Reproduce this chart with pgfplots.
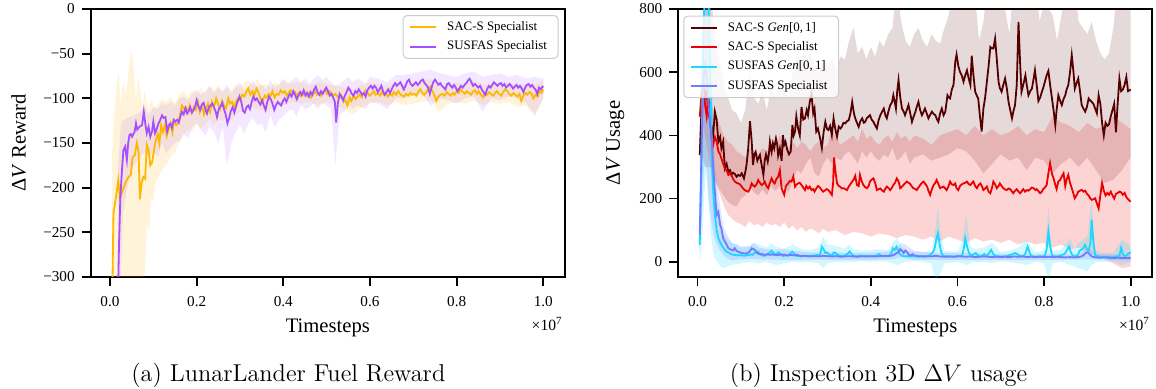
\documentclass[border=0pt]{standalone}
\usepackage{pgfplots}
\pgfplotsset{compat=1.18}
\usepgfplotslibrary{fillbetween}
\usepackage{fontspec}
\newfontfamily\tms{Liberation Serif}
\definecolor{cyel}{RGB}{255,183,0}
\definecolor{cpur}{RGB}{165,80,255}
\definecolor{cdred}{RGB}{85,0,0}
\definecolor{cred}{RGB}{235,0,0}
\definecolor{ccyan}{RGB}{30,215,255}
\definecolor{cblue}{RGB}{110,125,255}
\pgfplotsset{
  base/.style={
    scale only axis, height=134pt,
    axis line style={line width=0.85pt},
    every tick/.style={line width=0.85pt, black},
    major tick length=4.5pt,
    tick align=outside, tick pos=left,
    xtick={0,0.2,0.4,0.6,0.8,1.0},
    xticklabels={0.0,0.2,0.4,0.6,0.8,1.0},
    xmin=-0.0445, xmax=1.05,
    tick label style={font=\tms\fontsize{7.6}{9}\selectfont},
    xticklabel style={yshift=-1.5pt},
    label style={font=\tms\fontsize{10.3}{12}\selectfont},
    xlabel={Timesteps},
    xlabel style={at={(axis description cs:0.5,-0.19)}, anchor=center},
    legend cell align=left,
    legend image code/.code={\draw[##1, line width=1pt] (0pt,0pt) -- (13pt,0pt);},
    legend style={font=\tms\fontsize{6.45}{7.5}\selectfont, draw=black!20, line width=0.5pt,
      rounded corners=2pt, fill=white, fill opacity=0.8, text opacity=1, draw opacity=1,
      inner xsep=3pt, inner ysep=2pt, row sep=2pt,
      /tikz/every odd column/.append style={column sep=2.5pt},
      nodes={inner xsep=2.5pt, inner ysep=0.8pt, text height=4.7pt, text depth=1.4pt}},
  }
}
\begin{document}
\begin{tikzpicture}
% ================= LEFT =================
\begin{axis}[base, name=L, at={(45.35pt,-138.5pt)}, anchor=south west, width=237.15pt,
  ymin=-300, ymax=0, ytick={-300,-250,-200,-150,-100,-50,0},
  yticklabels={−300,−250,−200,−150,−100,−50,0},
  ylabel={Δ\textit{V} Reward},
  ylabel style={at={(axis description cs:-0.152,0.5)}, anchor=center},
  legend style={at={(axis description cs:1,1)}, anchor=north east, xshift=-3.25pt, yshift=-3pt}]
% yellow band
\addplot[draw=none, name path=yu, forget plot] coordinates {(0.005,-160) (0.01,-120) (0.015,-85) (0.02,-70) (0.025,-110) (0.03,-80) (0.035,-95) (0.04,-85) (0.045,-60) (0.05,-45) (0.055,-70) (0.06,-100) (0.065,-75) (0.07,-90) (0.075,-110) (0.08,-90) (0.085,-105) (0.09,-115) (0.095,-100) (0.1,-110) (0.11,-108) (0.12,-100) (0.13,-104) (0.14,-98) (0.15,-106) (0.16,-95) (0.17,-92) (0.18,-98) (0.19,-90) (0.2,-95) (0.21,-88) (0.22,-96) (0.23,-86) (0.24,-92) (0.25,-85) (0.26,-94) (0.27,-88) (0.28,-92) (0.29,-84) (0.30,-88) (0.31,-82) (0.32,-80) (0.33,-86) (0.34,-78) (0.35,-86) (0.36,-84) (0.37,-88) (0.38,-82) (0.39,-86) (0.40,-80) (0.42,-84) (0.44,-82) (0.46,-86) (0.48,-82) (0.50,-84) (0.52,-86) (0.54,-88) (0.56,-90) (0.58,-85) (0.60,-82) (0.62,-84) (0.64,-86) (0.66,-82) (0.68,-86) (0.70,-84) (0.72,-80) (0.74,-78) (0.76,-88) (0.78,-84) (0.80,-82) (0.82,-84) (0.84,-80) (0.86,-84) (0.88,-86) (0.90,-84) (0.92,-82) (0.94,-86) (0.96,-84) (0.98,-85) (1.0,-80)};
\addplot[draw=none, name path=yl, forget plot] coordinates {(0.005,-330) (0.02,-330) (0.04,-330) (0.06,-330) (0.075,-330) (0.08,-300) (0.085,-240) (0.09,-250) (0.095,-210) (0.1,-215) (0.105,-195) (0.11,-190) (0.12,-180) (0.13,-175) (0.14,-165) (0.15,-160) (0.16,-150) (0.17,-140) (0.18,-135) (0.19,-138) (0.2,-128) (0.21,-135) (0.22,-128) (0.23,-124) (0.24,-130) (0.25,-122) (0.26,-126) (0.27,-120) (0.28,-125) (0.29,-118) (0.30,-116) (0.32,-110) (0.34,-112) (0.36,-115) (0.38,-108) (0.40,-108) (0.42,-104) (0.44,-106) (0.46,-104) (0.48,-108) (0.50,-104) (0.52,-108) (0.54,-112) (0.56,-118) (0.58,-110) (0.60,-106) (0.62,-104) (0.64,-108) (0.66,-104) (0.68,-108) (0.70,-106) (0.72,-104) (0.74,-102) (0.76,-115) (0.78,-106) (0.80,-104) (0.82,-106) (0.84,-102) (0.86,-108) (0.88,-104) (0.90,-106) (0.92,-104) (0.94,-110) (0.96,-108) (0.98,-120) (1.0,-100)};
\addplot[fill=cyel, fill opacity=0.15, draw=none, forget plot] fill between[of=yu and yl];
% purple band
\addplot[draw=none, name path=pu, forget plot] coordinates {(0.018,-180) (0.025,-130) (0.03,-125) (0.04,-122) (0.05,-120) (0.06,-118) (0.07,-115) (0.08,-110) (0.09,-118) (0.1,-110) (0.11,-112) (0.12,-105) (0.13,-108) (0.14,-104) (0.15,-108) (0.16,-100) (0.17,-98) (0.18,-102) (0.19,-95) (0.2,-90) (0.21,-96) (0.22,-92) (0.23,-86) (0.24,-94) (0.25,-88) (0.26,-92) (0.27,-85) (0.28,-94) (0.29,-88) (0.30,-82) (0.31,-92) (0.32,-86) (0.33,-80) (0.34,-88) (0.35,-84) (0.36,-90) (0.37,-80) (0.38,-88) (0.39,-84) (0.40,-78) (0.41,-84) (0.42,-80) (0.43,-76) (0.44,-82) (0.45,-78) (0.46,-84) (0.47,-78) (0.48,-74) (0.49,-80) (0.50,-76) (0.51,-82) (0.52,-86) (0.53,-84) (0.54,-80) (0.55,-76) (0.56,-82) (0.57,-78) (0.58,-80) (0.59,-84) (0.60,-76) (0.62,-78) (0.64,-82) (0.66,-74) (0.68,-74) (0.70,-72) (0.72,-70) (0.74,-68) (0.76,-72) (0.78,-74) (0.80,-76) (0.82,-72) (0.84,-70) (0.86,-76) (0.88,-74) (0.90,-72) (0.92,-76) (0.94,-74) (0.96,-78) (0.98,-76) (1.0,-78)};
\addplot[draw=none, name path=pl, forget plot] coordinates {(0.018,-330) (0.025,-300) (0.03,-230) (0.04,-200) (0.05,-180) (0.06,-172) (0.07,-165) (0.08,-160) (0.09,-168) (0.1,-160) (0.11,-165) (0.12,-150) (0.13,-162) (0.14,-155) (0.15,-150) (0.16,-148) (0.17,-140) (0.18,-145) (0.19,-132) (0.2,-128) (0.21,-135) (0.22,-142) (0.23,-132) (0.24,-138) (0.25,-150) (0.26,-132) (0.27,-175) (0.28,-150) (0.29,-138) (0.30,-130) (0.31,-140) (0.32,-128) (0.33,-122) (0.34,-130) (0.35,-128) (0.36,-138) (0.37,-118) (0.38,-132) (0.39,-124) (0.40,-120) (0.41,-115) (0.42,-112) (0.43,-120) (0.44,-108) (0.45,-112) (0.46,-110) (0.47,-106) (0.48,-112) (0.49,-105) (0.50,-108) (0.51,-112) (0.52,-175) (0.53,-118) (0.54,-115) (0.55,-106) (0.56,-112) (0.57,-108) (0.58,-110) (0.59,-112) (0.60,-104) (0.62,-106) (0.64,-112) (0.66,-100) (0.68,-100) (0.70,-96) (0.72,-95) (0.74,-108) (0.76,-100) (0.78,-102) (0.80,-106) (0.82,-100) (0.84,-98) (0.86,-115) (0.88,-100) (0.90,-102) (0.92,-98) (0.94,-100) (0.96,-105) (0.98,-118) (1.0,-100)};
\addplot[fill=cpur, fill opacity=0.13, draw=none, forget plot] fill between[of=pu and pl];
% yellow line
\addplot[cyel, line width=0.9pt] coordinates {(0.005,-330) (0.008,-229) (0.014,-210) (0.019,-192) (0.023,-212) (0.028,-205) (0.033,-198) (0.038,-192) (0.043,-188) (0.048,-186) (0.052,-166) (0.057,-164) (0.062,-150) (0.066,-160) (0.069,-213) (0.073,-195) (0.077,-188) (0.081,-190) (0.085,-152) (0.089,-158) (0.093,-175) (0.097,-172) (0.101,-160) (0.105,-148) (0.110,-140) (0.114,-150) (0.118,-130) (0.122,-138) (0.127,-130) (0.131,-142) (0.135,-135) (0.140,-128) (0.144,-138) (0.148,-125) (0.153,-130) (0.157,-128) (0.162,-118) (0.166,-108) (0.171,-112) (0.175,-110) (0.180,-115) (0.184,-108) (0.189,-116) (0.193,-110) (0.198,-113) (0.203,-104) (0.207,-115) (0.212,-108) (0.217,-118) (0.221,-112) (0.226,-106) (0.231,-115) (0.235,-104) (0.240,-110) (0.245,-100) (0.249,-106) (0.254,-112) (0.259,-103) (0.263,-108) (0.268,-111) (0.273,-100) (0.277,-106) (0.282,-104) (0.287,-110) (0.291,-103) (0.296,-100) (0.301,-102) (0.305,-96) (0.310,-98) (0.315,-92) (0.319,-89) (0.324,-96) (0.329,-92) (0.333,-97) (0.338,-89) (0.343,-94) (0.347,-100) (0.352,-104) (0.357,-97) (0.361,-99) (0.366,-95) (0.371,-97) (0.375,-92) (0.380,-99) (0.385,-95) (0.389,-96) (0.394,-91) (0.399,-94) (0.403,-92) (0.408,-97) (0.413,-93) (0.417,-91) (0.422,-95) (0.427,-93) (0.431,-97) (0.436,-94) (0.441,-98) (0.445,-96) (0.450,-93) (0.455,-97) (0.459,-94) (0.464,-99) (0.469,-95) (0.473,-92) (0.478,-96) (0.483,-94) (0.487,-97) (0.492,-93) (0.497,-91) (0.501,-95) (0.506,-92) (0.511,-94) (0.515,-97) (0.520,-95) (0.525,-98) (0.529,-100) (0.534,-97) (0.539,-104) (0.543,-102) (0.548,-108) (0.553,-99) (0.557,-103) (0.562,-97) (0.567,-101) (0.571,-98) (0.576,-96) (0.581,-99) (0.585,-95) (0.590,-91) (0.595,-94) (0.599,-97) (0.604,-95) (0.609,-92) (0.613,-96) (0.618,-94) (0.623,-97) (0.627,-93) (0.632,-96) (0.637,-94) (0.641,-98) (0.646,-95) (0.651,-97) (0.655,-93) (0.660,-96) (0.665,-92) (0.669,-95) (0.674,-97) (0.679,-98) (0.683,-95) (0.688,-97) (0.693,-94) (0.697,-96) (0.702,-95) (0.707,-97) (0.711,-93) (0.716,-90) (0.721,-94) (0.725,-96) (0.730,-93) (0.735,-90) (0.739,-87) (0.744,-92) (0.749,-97) (0.753,-103) (0.758,-98) (0.763,-96) (0.767,-95) (0.772,-97) (0.777,-93) (0.781,-95) (0.786,-97) (0.791,-94) (0.795,-96) (0.800,-92) (0.805,-94) (0.809,-90) (0.814,-93) (0.819,-95) (0.823,-92) (0.828,-94) (0.833,-96) (0.837,-93) (0.842,-91) (0.847,-95) (0.851,-92) (0.856,-96) (0.861,-99) (0.865,-94) (0.870,-96) (0.875,-93) (0.879,-95) (0.884,-97) (0.889,-94) (0.893,-92) (0.898,-95) (0.903,-97) (0.907,-93) (0.912,-90) (0.917,-92) (0.921,-95) (0.926,-97) (0.931,-94) (0.935,-96) (0.940,-98) (0.945,-95) (0.949,-103) (0.954,-97) (0.959,-94) (0.963,-96) (0.968,-93) (0.973,-95) (0.977,-100) (0.982,-96) (0.987,-98) (0.991,-92) (0.996,-94) (1.000,-90)};
\addlegendentry{SAC-S Specialist}
% purple line
\addplot[cpur, line width=0.9pt] coordinates {(0.018,-330) (0.021,-260) (0.024,-210) (0.028,-178) (0.031,-158) (0.035,-154) (0.039,-169) (0.042,-150) (0.045,-141) (0.048,-140) (0.051,-143) (0.054,-140) (0.057,-137) (0.060,-128) (0.063,-135) (0.066,-133) (0.070,-131) (0.074,-130) (0.078,-115) (0.082,-130) (0.085,-139) (0.089,-132) (0.093,-143) (0.097,-137) (0.100,-126) (0.104,-139) (0.108,-134) (0.112,-128) (0.116,-124) (0.120,-119) (0.124,-122) (0.128,-121) (0.132,-137) (0.136,-130) (0.139,-128) (0.143,-133) (0.147,-124) (0.151,-126) (0.155,-124) (0.159,-127) (0.162,-121) (0.166,-115) (0.170,-118) (0.174,-111) (0.178,-117) (0.182,-114) (0.185,-110) (0.189,-116) (0.193,-113) (0.197,-108) (0.200,-102) (0.204,-109) (0.208,-113) (0.212,-107) (0.216,-105) (0.220,-112) (0.224,-117) (0.228,-110) (0.232,-108) (0.236,-106) (0.240,-110) (0.244,-115) (0.247,-121) (0.251,-112) (0.255,-109) (0.259,-105) (0.263,-112) (0.267,-118) (0.271,-128) (0.275,-122) (0.279,-114) (0.283,-110) (0.287,-116) (0.291,-109) (0.295,-103) (0.299,-98) (0.303,-104) (0.307,-114) (0.311,-116) (0.315,-110) (0.319,-108) (0.323,-112) (0.327,-104) (0.331,-98) (0.335,-102) (0.339,-100) (0.343,-104) (0.347,-107) (0.351,-102) (0.355,-108) (0.359,-113) (0.363,-104) (0.367,-98) (0.371,-101) (0.375,-106) (0.379,-113) (0.383,-108) (0.387,-104) (0.391,-106) (0.395,-108) (0.399,-103) (0.403,-100) (0.407,-104) (0.411,-99) (0.415,-95) (0.419,-98) (0.423,-92) (0.427,-96) (0.431,-101) (0.435,-97) (0.439,-93) (0.443,-96) (0.447,-91) (0.451,-97) (0.455,-94) (0.459,-98) (0.463,-93) (0.467,-96) (0.471,-90) (0.475,-87) (0.479,-93) (0.483,-96) (0.487,-92) (0.491,-95) (0.495,-91) (0.499,-88) (0.503,-92) (0.507,-97) (0.511,-95) (0.515,-99) (0.519,-104) (0.522,-127) (0.526,-105) (0.530,-95) (0.534,-98) (0.538,-102) (0.542,-97) (0.546,-93) (0.550,-88) (0.554,-91) (0.558,-95) (0.562,-97) (0.566,-92) (0.570,-94) (0.574,-90) (0.578,-93) (0.582,-96) (0.586,-94) (0.590,-98) (0.594,-91) (0.598,-88) (0.602,-86) (0.606,-89) (0.610,-86) (0.614,-88) (0.618,-93) (0.622,-90) (0.626,-86) (0.630,-92) (0.634,-96) (0.638,-93) (0.642,-90) (0.646,-94) (0.650,-90) (0.654,-86) (0.658,-83) (0.662,-86) (0.666,-84) (0.670,-82) (0.674,-86) (0.678,-90) (0.682,-86) (0.686,-81) (0.690,-79) (0.694,-84) (0.698,-86) (0.702,-84) (0.706,-82) (0.710,-85) (0.714,-83) (0.718,-80) (0.722,-79) (0.726,-83) (0.730,-85) (0.734,-88) (0.738,-95) (0.742,-88) (0.746,-82) (0.750,-79) (0.754,-82) (0.758,-85) (0.762,-83) (0.766,-86) (0.770,-88) (0.774,-90) (0.778,-84) (0.782,-83) (0.786,-86) (0.790,-88) (0.794,-85) (0.798,-88) (0.802,-92) (0.806,-89) (0.810,-86) (0.814,-88) (0.818,-85) (0.822,-83) (0.826,-80) (0.830,-78) (0.834,-82) (0.838,-86) (0.842,-84) (0.846,-86) (0.850,-88) (0.854,-86) (0.858,-90) (0.862,-93) (0.866,-96) (0.870,-90) (0.874,-86) (0.878,-88) (0.882,-85) (0.886,-82) (0.890,-84) (0.894,-86) (0.898,-84) (0.902,-83) (0.906,-86) (0.910,-84) (0.914,-88) (0.918,-86) (0.922,-84) (0.926,-86) (0.930,-89) (0.934,-87) (0.938,-85) (0.942,-88) (0.946,-86) (0.950,-89) (0.954,-93) (0.958,-88) (0.962,-85) (0.966,-84) (0.970,-87) (0.974,-85) (0.978,-88) (0.982,-90) (0.986,-95) (0.990,-88) (0.994,-90) (0.998,-87) (1.000,-88)};
\addlegendentry{SUSFAS Specialist}
\end{axis}
\node[anchor=east, inner sep=0pt, font=\tms\fontsize{7.8}{9}\selectfont] at ([xshift=-1pt,yshift=-23.6pt]L.south east) {×10\textsuperscript{7}};
% ================= RIGHT =================
\begin{axis}[base, name=R, at={(339.15pt,-138.5pt)}, anchor=south west, width=237pt,
  ymin=-48, ymax=800, ytick={0,200,400,600,800},
  yticklabels={0,200,400,600,800},
  ylabel={Δ\textit{V} Usage},
  ylabel style={at={(axis description cs:-0.133,0.5)}, anchor=center},
  legend style={at={(axis description cs:0,1)}, anchor=north west, xshift=2.5pt, yshift=-3.3pt}]
% dark red band
\addplot[draw=none, name path=du, forget plot] coordinates {(0.005,400) (0.01,700) (0.015,880) (0.03,880) (0.04,700) (0.05,640) (0.06,560) (0.07,520) (0.08,480) (0.09,470) (0.1,440) (0.11,480) (0.12,600) (0.13,520) (0.14,500) (0.15,540) (0.16,480) (0.17,560) (0.18,520) (0.19,580) (0.2,540) (0.21,520) (0.22,600) (0.23,660) (0.24,620) (0.25,700) (0.26,660) (0.27,620) (0.28,600) (0.29,640) (0.30,620) (0.31,640) (0.32,600) (0.33,650) (0.34,640) (0.35,700) (0.36,740) (0.37,660) (0.38,680) (0.39,640) (0.40,680) (0.41,650) (0.42,700) (0.43,680) (0.44,720) (0.45,740) (0.46,880) (0.47,760) (0.48,700) (0.49,680) (0.50,720) (0.51,740) (0.52,700) (0.53,680) (0.54,720) (0.55,700) (0.56,690) (0.57,740) (0.58,780) (0.59,880) (0.60,880) (0.62,880) (0.64,850) (0.65,700) (0.66,760) (0.67,880) (0.70,880) (0.71,800) (0.72,720) (0.73,880) (0.76,880) (0.78,880) (0.79,760) (0.80,820) (0.82,780) (0.83,700) (0.84,780) (0.85,880) (0.87,880) (0.88,760) (0.90,720) (0.91,760) (0.92,700) (0.93,660) (0.94,640) (0.95,660) (0.96,740) (0.97,880) (1.0,880)};
\addplot[draw=none, name path=dl, forget plot] coordinates {(0.005,280) (0.01,330) (0.02,300) (0.03,300) (0.04,260) (0.05,230) (0.06,210) (0.07,190) (0.08,180) (0.09,175) (0.1,200) (0.11,210) (0.12,240) (0.13,220) (0.14,210) (0.15,230) (0.16,210) (0.17,240) (0.18,225) (0.19,240) (0.2,235) (0.21,220) (0.22,260) (0.23,290) (0.24,280) (0.25,310) (0.26,330) (0.27,280) (0.28,270) (0.29,310) (0.30,330) (0.31,310) (0.32,330) (0.33,320) (0.34,340) (0.35,350) (0.36,330) (0.37,310) (0.38,350) (0.39,330) (0.40,350) (0.41,330) (0.42,320) (0.43,340) (0.44,330) (0.45,360) (0.46,320) (0.47,330) (0.48,350) (0.49,310) (0.50,330) (0.52,340) (0.54,320) (0.56,330) (0.58,340) (0.60,360) (0.62,350) (0.64,320) (0.66,280) (0.68,310) (0.70,340) (0.72,320) (0.74,330) (0.76,290) (0.78,330) (0.80,320) (0.82,280) (0.84,310) (0.86,330) (0.88,300) (0.90,330) (0.92,290) (0.94,250) (0.96,260) (0.98,290) (1.0,330)};
\addplot[fill=cdred, fill opacity=0.15, draw=none, forget plot] fill between[of=du and dl];
% red band
\addplot[draw=none, name path=ru, forget plot] coordinates {(0.005,520) (0.01,600) (0.02,560) (0.03,500) (0.04,470) (0.05,440) (0.06,400) (0.07,380) (0.08,370) (0.09,350) (0.1,340) (0.11,330) (0.12,360) (0.13,350) (0.14,340) (0.15,360) (0.16,350) (0.17,380) (0.18,360) (0.19,400) (0.2,370) (0.21,360) (0.22,380) (0.23,360) (0.24,380) (0.25,370) (0.26,350) (0.27,370) (0.28,380) (0.29,360) (0.30,370) (0.31,420) (0.32,390) (0.33,370) (0.34,380) (0.35,390) (0.36,400) (0.37,380) (0.38,420) (0.39,390) (0.40,400) (0.41,380) (0.42,370) (0.43,390) (0.44,400) (0.45,380) (0.46,410) (0.47,390) (0.48,400) (0.49,380) (0.50,400) (0.52,390) (0.54,370) (0.56,400) (0.58,410) (0.60,420) (0.62,400) (0.64,430) (0.66,400) (0.68,420) (0.70,400) (0.72,410) (0.74,430) (0.76,400) (0.78,420) (0.80,410) (0.82,460) (0.84,440) (0.86,430) (0.88,410) (0.90,440) (0.92,420) (0.94,430) (0.96,460) (0.98,440) (1.0,420)};
\addplot[draw=none, name path=rl, forget plot] coordinates {(0.005,400) (0.01,450) (0.02,380) (0.03,300) (0.04,260) (0.05,220) (0.06,180) (0.07,150) (0.08,135) (0.09,125) (0.1,120) (0.11,110) (0.12,130) (0.13,115) (0.14,120) (0.15,110) (0.16,125) (0.17,115) (0.18,120) (0.19,110) (0.2,125) (0.21,105) (0.22,115) (0.23,100) (0.24,110) (0.25,95) (0.26,105) (0.27,100) (0.28,90) (0.29,105) (0.30,95) (0.32,100) (0.34,85) (0.36,95) (0.38,90) (0.40,80) (0.42,90) (0.44,85) (0.46,75) (0.48,85) (0.50,80) (0.52,70) (0.54,80) (0.56,65) (0.58,80) (0.60,70) (0.62,60) (0.64,75) (0.66,65) (0.68,70) (0.70,60) (0.72,70) (0.74,55) (0.76,65) (0.78,55) (0.80,60) (0.82,45) (0.84,55) (0.86,40) (0.88,45) (0.90,30) (0.92,20) (0.94,10) (0.96,-5) (0.98,-20) (1.0,-15)};
\addplot[fill=cred, fill opacity=0.17, draw=none, forget plot] fill between[of=ru and rl];
% cyan band
\addplot[draw=none, name path=cu, forget plot] coordinates {(0.005,100) (0.01,500) (0.015,880) (0.03,880) (0.035,500) (0.04,300) (0.045,200) (0.05,150) (0.055,110) (0.06,90) (0.07,70) (0.08,60) (0.09,55) (0.1,50) (0.12,48) (0.13,60) (0.14,55) (0.16,45) (0.17,60) (0.18,48) (0.2,42) (0.22,55) (0.24,40) (0.26,38) (0.28,45) (0.29,80) (0.3,55) (0.32,50) (0.34,42) (0.35,55) (0.36,40) (0.38,35) (0.4,38) (0.42,40) (0.44,38) (0.45,60) (0.46,75) (0.47,50) (0.48,35) (0.5,32) (0.52,30) (0.54,35) (0.55,110) (0.555,180) (0.56,100) (0.57,35) (0.6,32) (0.61,60) (0.62,150) (0.63,50) (0.64,40) (0.66,45) (0.68,60) (0.7,32) (0.72,35) (0.74,45) (0.76,70) (0.77,45) (0.78,30) (0.8,35) (0.805,80) (0.81,180) (0.815,80) (0.82,35) (0.84,40) (0.86,75) (0.87,40) (0.88,60) (0.9,80) (0.91,200) (0.915,90) (0.92,35) (0.94,28) (0.96,30) (0.98,70) (1.0,50)};
\addplot[draw=none, name path=cl, forget plot] coordinates {(0.005,0) (0.01,50) (0.015,200) (0.02,300) (0.025,200) (0.03,100) (0.035,40) (0.04,10) (0.05,-10) (0.06,-20) (0.07,-15) (0.08,-10) (0.1,-5) (0.12,0) (0.14,-5) (0.16,0) (0.18,-10) (0.2,-5) (0.22,0) (0.24,-2) (0.26,0) (0.28,-5) (0.29,-20) (0.3,-5) (0.32,0) (0.34,-2) (0.36,0) (0.38,2) (0.4,0) (0.42,2) (0.44,0) (0.46,-10) (0.48,0) (0.5,2) (0.52,0) (0.54,-5) (0.55,-60) (0.56,-40) (0.57,-5) (0.6,0) (0.62,-10) (0.64,0) (0.66,0) (0.68,-5) (0.7,2) (0.72,0) (0.74,-5) (0.76,-10) (0.78,0) (0.8,-5) (0.81,-60) (0.82,-5) (0.84,0) (0.86,-10) (0.88,-20) (0.9,-30) (0.91,-10) (0.92,0) (0.94,0) (0.96,0) (0.98,-10) (1.0,0)};
\addplot[fill=ccyan, fill opacity=0.2, draw=none, forget plot] fill between[of=cu and cl];
% blue band
\addplot[draw=none, name path=bu, forget plot] coordinates {(0.005,140) (0.01,500) (0.015,880) (0.025,880) (0.03,650) (0.035,420) (0.04,300) (0.045,250) (0.05,200) (0.055,150) (0.06,110) (0.07,80) (0.08,60) (0.09,55) (0.1,45) (0.12,50) (0.13,60) (0.14,45) (0.16,40) (0.18,38) (0.2,40) (0.22,35) (0.24,32) (0.26,30) (0.3,30) (0.35,28) (0.4,28) (0.45,35) (0.47,60) (0.48,55) (0.5,35) (0.55,28) (0.6,28) (0.7,25) (0.8,25) (0.88,25) (0.9,45) (0.92,25) (1.0,22)};
\addplot[draw=none, name path=bl, forget plot] coordinates {(0.005,40) (0.01,150) (0.015,300) (0.02,300) (0.025,200) (0.03,150) (0.035,100) (0.04,70) (0.05,40) (0.06,20) (0.07,10) (0.08,5) (0.1,8) (0.12,10) (0.14,8) (0.16,8) (0.2,6) (0.25,6) (0.3,6) (0.35,6) (0.4,6) (0.45,8) (0.47,15) (0.5,6) (0.6,6) (0.7,5) (0.8,5) (0.9,8) (1.0,4)};
\addplot[fill=cblue, fill opacity=0.2, draw=none, forget plot] fill between[of=bu and bl];
% dark red line
\addplot[cdred, line width=0.9pt] coordinates {(0.005,338) (0.009,480) (0.013,560) (0.017,520) (0.021,540) (0.025,470) (0.028,454) (0.032,430) (0.036,401) (0.040,475) (0.044,450) (0.048,380) (0.052,395) (0.055,359) (0.059,380) (0.063,296) (0.067,310) (0.071,285) (0.075,290) (0.078,275) (0.082,282) (0.086,278) (0.090,269) (0.094,275) (0.098,272) (0.102,280) (0.107,264) (0.111,290) (0.113,306) (0.117,360) (0.121,445) (0.125,380) (0.128,306) (0.131,340) (0.134,348) (0.138,320) (0.141,330) (0.144,338) (0.148,306) (0.152,275) (0.155,320) (0.158,340) (0.162,317) (0.165,345) (0.167,380) (0.171,348) (0.174,375) (0.177,359) (0.181,390) (0.184,370) (0.186,336) (0.190,359) (0.194,320) (0.197,401) (0.200,370) (0.203,380) (0.207,355) (0.211,340) (0.215,349) (0.219,433) (0.222,400) (0.225,412) (0.228,460) (0.232,422) (0.236,400) (0.240,490) (0.244,450) (0.248,454) (0.252,480) (0.255,464) (0.259,506) (0.263,530) (0.267,470) (0.270,485) (0.274,412) (0.278,422) (0.283,390) (0.287,360) (0.291,410) (0.295,443) (0.299,420) (0.302,417) (0.306,430) (0.310,401) (0.314,454) (0.318,420) (0.322,396) (0.326,428) (0.330,422) (0.333,427) (0.337,440) (0.341,438) (0.345,445) (0.349,448) (0.353,470) (0.357,506) (0.361,470) (0.364,454) (0.368,440) (0.372,427) (0.376,445) (0.380,454) (0.384,440) (0.387,443) (0.391,455) (0.395,460) (0.398,464) (0.402,450) (0.406,443) (0.410,432) (0.414,422) (0.418,448) (0.422,464) (0.426,475) (0.430,485) (0.434,462) (0.437,454) (0.441,478) (0.445,496) (0.449,505) (0.452,527) (0.456,500) (0.458,485) (0.461,540) (0.464,575) (0.468,520) (0.472,485) (0.476,475) (0.479,464) (0.483,480) (0.487,496) (0.491,470) (0.495,443) (0.499,460) (0.503,475) (0.506,490) (0.510,506) (0.514,480) (0.518,464) (0.522,475) (0.525,485) (0.529,470) (0.533,454) (0.537,465) (0.541,475) (0.545,468) (0.549,464) (0.553,450) (0.556,443) (0.560,470) (0.564,485) (0.568,464) (0.572,475) (0.577,527) (0.580,520) (0.583,517) (0.587,545) (0.591,560) (0.595,633) (0.598,656) (0.602,620) (0.606,601) (0.610,590) (0.614,570) (0.618,590) (0.622,606) (0.626,580) (0.630,559) (0.633,652) (0.637,590) (0.641,538) (0.645,525) (0.648,517) (0.652,460) (0.656,412) (0.660,485) (0.664,520) (0.668,570) (0.672,620) (0.676,680) (0.680,675) (0.683,675) (0.687,706) (0.691,640) (0.695,569) (0.698,550) (0.702,538) (0.706,560) (0.710,580) (0.714,550) (0.718,506) (0.722,480) (0.726,454) (0.729,475) (0.733,496) (0.737,560) (0.741,759) (0.745,620) (0.748,538) (0.752,560) (0.757,590) (0.760,560) (0.764,527) (0.768,540) (0.772,548) (0.776,580) (0.779,606) (0.783,560) (0.787,509) (0.791,520) (0.795,538) (0.798,550) (0.802,570) (0.806,590) (0.810,604) (0.814,560) (0.818,520) (0.822,480) (0.826,433) (0.829,480) (0.833,527) (0.837,510) (0.841,496) (0.845,515) (0.849,527) (0.852,545) (0.856,559) (0.860,600) (0.864,654) (0.868,600) (0.871,548) (0.875,565) (0.879,580) (0.883,540) (0.887,496) (0.891,485) (0.895,475) (0.899,490) (0.903,517) (0.907,510) (0.910,506) (0.914,500) (0.918,485) (0.922,470) (0.926,527) (0.930,500) (0.934,440) (0.938,400) (0.942,440) (0.946,430) (0.950,435) (0.954,460) (0.958,480) (0.962,500) (0.966,410) (0.970,500) (0.974,580) (0.978,540) (0.982,545) (0.986,560) (0.990,585) (0.994,540) (1.000,545)};
\addlegendentry{SAC-S \textit{Gen}[0,\,1]}
% red line
\addplot[cred, line width=0.9pt] coordinates {(0.005,459) (0.009,527) (0.013,560) (0.017,500) (0.021,460) (0.025,520) (0.029,470) (0.032,390) (0.036,370) (0.040,395) (0.044,380) (0.048,350) (0.052,340) (0.055,327) (0.059,310) (0.063,296) (0.067,290) (0.071,275) (0.075,280) (0.078,275) (0.082,262) (0.086,254) (0.090,250) (0.094,248) (0.098,245) (0.102,238) (0.105,232) (0.109,227) (0.113,224) (0.117,222) (0.121,232) (0.125,248) (0.128,242) (0.132,238) (0.136,245) (0.140,259) (0.144,250) (0.148,243) (0.152,247) (0.155,254) (0.159,240) (0.163,233) (0.167,250) (0.171,264) (0.175,252) (0.178,248) (0.182,262) (0.186,269) (0.190,290) (0.194,233) (0.197,222) (0.200,212) (0.204,240) (0.209,248) (0.213,256) (0.217,254) (0.221,270) (0.225,238) (0.228,244) (0.232,248) (0.236,250) (0.240,243) (0.244,235) (0.248,227) (0.251,240) (0.255,232) (0.259,238) (0.263,227) (0.267,230) (0.270,222) (0.274,232) (0.278,240) (0.282,236) (0.286,228) (0.290,222) (0.294,226) (0.298,230) (0.302,227) (0.306,220) (0.310,212) (0.313,250) (0.315,330) (0.318,290) (0.322,248) (0.326,240) (0.329,238) (0.333,232) (0.337,233) (0.341,230) (0.345,227) (0.349,238) (0.353,246) (0.357,254) (0.361,262) (0.364,272) (0.368,243) (0.372,240) (0.375,275) (0.379,255) (0.383,243) (0.387,236) (0.391,233) (0.395,240) (0.398,254) (0.402,260) (0.406,264) (0.410,250) (0.414,227) (0.418,230) (0.422,232) (0.426,226) (0.430,222) (0.433,230) (0.437,238) (0.441,233) (0.445,227) (0.449,235) (0.452,243) (0.456,250) (0.460,264) (0.464,255) (0.468,233) (0.472,238) (0.475,243) (0.479,248) (0.483,254) (0.487,250) (0.490,248) (0.494,240) (0.498,233) (0.502,231) (0.506,227) (0.510,235) (0.514,243) (0.518,250) (0.522,254) (0.526,246) (0.530,238) (0.533,225) (0.537,212) (0.541,230) (0.545,243) (0.549,250) (0.552,259) (0.556,246) (0.560,233) (0.564,236) (0.568,238) (0.572,232) (0.575,227) (0.579,238) (0.583,254) (0.587,245) (0.591,243) (0.595,248) (0.598,233) (0.602,227) (0.606,240) (0.610,245) (0.614,248) (0.618,250) (0.622,254) (0.626,246) (0.630,243) (0.634,250) (0.637,254) (0.641,240) (0.645,233) (0.649,243) (0.653,248) (0.657,238) (0.660,227) (0.664,232) (0.668,238) (0.672,222) (0.676,217) (0.680,235) (0.683,254) (0.687,245) (0.691,233) (0.695,240) (0.698,248) (0.702,240) (0.706,233) (0.710,229) (0.714,227) (0.718,232) (0.722,230) (0.726,222) (0.729,217) (0.733,225) (0.737,230) (0.741,222) (0.745,217) (0.749,225) (0.752,230) (0.756,222) (0.760,227) (0.764,225) (0.768,230) (0.772,235) (0.776,233) (0.780,227) (0.783,230) (0.787,224) (0.791,217) (0.795,222) (0.798,230) (0.802,235) (0.806,243) (0.810,280) (0.814,312) (0.818,280) (0.822,264) (0.826,243) (0.829,230) (0.833,254) (0.837,259) (0.841,270) (0.845,280) (0.849,240) (0.852,260) (0.856,275) (0.860,250) (0.864,233) (0.868,215) (0.871,201) (0.875,210) (0.879,222) (0.883,225) (0.887,228) (0.891,222) (0.895,225) (0.899,215) (0.903,210) (0.907,200) (0.910,196) (0.914,198) (0.918,201) (0.922,185) (0.926,169) (0.930,210) (0.934,250) (0.938,225) (0.942,210) (0.946,218) (0.950,212) (0.954,222) (0.958,210) (0.962,200) (0.966,215) (0.970,218) (0.974,222) (0.978,220) (0.982,212) (0.986,218) (0.990,205) (0.994,198) (1.000,190)};
\addlegendentry{SAC-S Specialist}
% cyan line
\addplot[ccyan, line width=0.9pt] coordinates {(0.005,54) (0.009,300) (0.013,700) (0.017,880) (0.021,880) (0.025,850) (0.029,600) (0.032,420) (0.034,275) (0.037,200) (0.040,148) (0.044,100) (0.048,75) (0.052,62) (0.055,54) (0.059,45) (0.063,38) (0.067,32) (0.071,30) (0.075,26) (0.079,24) (0.083,22) (0.087,22) (0.091,20) (0.095,22) (0.099,20) (0.103,21) (0.107,19) (0.111,20) (0.115,22) (0.119,21) (0.123,24) (0.127,22) (0.131,28) (0.135,30) (0.139,33) (0.143,26) (0.147,22) (0.151,20) (0.155,19) (0.159,22) (0.163,25) (0.167,30) (0.171,35) (0.175,28) (0.179,22) (0.183,26) (0.187,30) (0.191,24) (0.195,20) (0.199,18) (0.203,22) (0.207,20) (0.211,22) (0.215,28) (0.219,32) (0.223,26) (0.227,20) (0.231,18) (0.235,19) (0.239,17) (0.243,18) (0.247,20) (0.251,18) (0.255,17) (0.259,19) (0.263,20) (0.267,18) (0.271,20) (0.275,22) (0.279,20) (0.283,24) (0.287,48) (0.291,40) (0.295,28) (0.299,30) (0.303,24) (0.307,20) (0.311,22) (0.315,30) (0.319,28) (0.323,22) (0.327,20) (0.331,19) (0.335,18) (0.339,20) (0.343,22) (0.347,26) (0.351,33) (0.355,26) (0.359,20) (0.363,18) (0.367,17) (0.371,18) (0.375,20) (0.379,18) (0.383,17) (0.387,18) (0.391,19) (0.395,17) (0.399,18) (0.403,17) (0.407,18) (0.411,19) (0.415,21) (0.419,24) (0.423,20) (0.427,18) (0.431,17) (0.435,19) (0.439,18) (0.443,20) (0.447,26) (0.451,43) (0.455,38) (0.459,48) (0.463,35) (0.467,24) (0.471,20) (0.475,18) (0.479,17) (0.483,18) (0.487,17) (0.491,18) (0.495,17) (0.499,18) (0.503,17) (0.507,18) (0.511,16) (0.515,17) (0.519,18) (0.523,17) (0.527,16) (0.531,18) (0.535,20) (0.539,24) (0.543,30) (0.547,40) (0.551,70) (0.555,90) (0.559,55) (0.563,28) (0.567,20) (0.571,17) (0.575,18) (0.579,16) (0.583,17) (0.587,18) (0.591,16) (0.595,17) (0.599,16) (0.603,18) (0.607,17) (0.611,20) (0.615,45) (0.618,75) (0.622,50) (0.626,30) (0.630,22) (0.634,20) (0.638,24) (0.642,28) (0.646,22) (0.650,18) (0.654,17) (0.658,20) (0.662,25) (0.666,20) (0.670,22) (0.674,30) (0.678,38) (0.682,26) (0.686,20) (0.690,18) (0.694,17) (0.698,18) (0.702,16) (0.706,17) (0.710,18) (0.714,17) (0.718,20) (0.722,22) (0.726,24) (0.730,26) (0.734,28) (0.738,25) (0.742,20) (0.746,18) (0.750,17) (0.754,20) (0.758,30) (0.762,48) (0.766,32) (0.770,20) (0.774,17) (0.778,16) (0.782,17) (0.786,16) (0.790,18) (0.794,17) (0.798,16) (0.802,20) (0.806,40) (0.810,96) (0.814,50) (0.818,22) (0.822,18) (0.826,17) (0.830,16) (0.834,18) (0.838,20) (0.842,22) (0.846,24) (0.850,30) (0.854,40) (0.858,48) (0.862,30) (0.866,20) (0.870,18) (0.874,17) (0.878,22) (0.882,35) (0.886,38) (0.890,42) (0.895,54) (0.899,40) (0.903,35) (0.907,60) (0.910,133) (0.914,60) (0.918,22) (0.922,18) (0.926,16) (0.930,17) (0.934,15) (0.938,16) (0.942,15) (0.946,16) (0.950,15) (0.954,14) (0.958,16) (0.962,15) (0.966,17) (0.970,18) (0.974,20) (0.978,45) (0.982,25) (0.986,18) (0.990,20) (0.994,25) (1.000,30)};
\addlegendentry{SUSFAS \textit{Gen}[0,\,1]}
% blue line
\addplot[cblue, line width=0.9pt] coordinates {(0.005,85) (0.009,350) (0.013,560) (0.017,620) (0.021,590) (0.025,506) (0.029,430) (0.032,404) (0.036,300) (0.040,220) (0.042,180) (0.044,148) (0.048,158) (0.052,117) (0.055,106) (0.059,75) (0.063,64) (0.067,55) (0.071,43) (0.075,40) (0.078,38) (0.082,36) (0.086,43) (0.090,34) (0.094,32) (0.098,30) (0.102,28) (0.106,27) (0.110,26) (0.114,28) (0.118,30) (0.122,36) (0.125,43) (0.129,40) (0.132,38) (0.136,30) (0.140,26) (0.144,24) (0.148,25) (0.152,23) (0.156,22) (0.160,24) (0.164,23) (0.168,22) (0.172,24) (0.176,22) (0.180,23) (0.184,21) (0.188,22) (0.192,24) (0.196,22) (0.200,23) (0.204,21) (0.208,20) (0.212,21) (0.216,22) (0.220,21) (0.224,20) (0.228,22) (0.232,21) (0.236,19) (0.240,18) (0.244,19) (0.248,18) (0.252,19) (0.256,18) (0.260,17) (0.270,18) (0.280,17) (0.290,19) (0.300,18) (0.310,17) (0.320,18) (0.330,16) (0.340,17) (0.350,18) (0.360,17) (0.370,16) (0.380,18) (0.390,17) (0.400,18) (0.410,17) (0.420,18) (0.430,19) (0.440,18) (0.450,20) (0.456,24) (0.460,28) (0.464,30) (0.468,40) (0.472,35) (0.476,28) (0.480,36) (0.484,30) (0.488,22) (0.492,20) (0.496,24) (0.500,20) (0.510,18) (0.520,17) (0.530,18) (0.540,17) (0.550,19) (0.560,17) (0.570,16) (0.580,17) (0.590,16) (0.600,18) (0.610,17) (0.620,16) (0.630,17) (0.640,15) (0.650,16) (0.660,17) (0.670,16) (0.680,15) (0.690,16) (0.700,15) (0.710,16) (0.720,15) (0.730,17) (0.740,16) (0.750,17) (0.760,15) (0.770,16) (0.780,15) (0.790,16) (0.800,15) (0.810,16) (0.820,15) (0.830,16) (0.840,15) (0.850,14) (0.860,15) (0.870,14) (0.880,15) (0.888,18) (0.892,22) (0.896,28) (0.900,30) (0.904,26) (0.908,20) (0.912,16) (0.920,14) (0.930,13) (0.940,14) (0.950,13) (0.960,12) (0.970,13) (0.980,12) (0.990,12) (1.000,12)};
\addlegendentry{SUSFAS Specialist}
\end{axis}
\node[anchor=east, inner sep=0pt, font=\tms\fontsize{7.8}{9}\selectfont] at ([xshift=-1pt,yshift=-23.6pt]R.south east) {×10\textsuperscript{7}};
% captions
\node[font=\fontsize{12.2}{14}\selectfont] at (144.15pt,-187.5pt) {(a) LunarLander Fuel Reward};
\node[font=\fontsize{12.2}{14}\selectfont] at (439.3pt,-187.5pt) {(b) Inspection 3D $\Delta V$ usage};
\pgfresetboundingbox
\path[use as bounding box] (0pt,0pt) rectangle (578pt,-194.5pt);
\end{tikzpicture}
\end{document}
